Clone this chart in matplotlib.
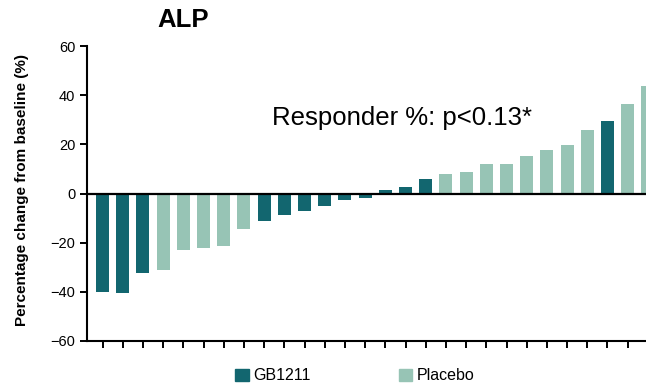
import matplotlib
matplotlib.use('Agg')
import matplotlib.pyplot as plt
from matplotlib.patches import Patch

# Datos (cambio porcentual de ALP por paciente)
valores = [-40.2, -40.5, -32.4, -31.1, -23.0, -22.3, -21.5, -14.6,
           -11.2, -8.8, -7.0, -4.9, -2.6, -1.8, 1.4, 2.5, 5.7,
           7.9, 8.9, 12.2, 12.2, 15.4, 17.8, 19.7, 26.0, 29.5, 36.6, 43.7]
grupos = ['GB1211', 'GB1211', 'GB1211', 'Placebo', 'Placebo', 'Placebo', 'Placebo', 'Placebo',
          'GB1211', 'GB1211', 'GB1211', 'GB1211', 'GB1211', 'GB1211', 'GB1211', 'GB1211', 'GB1211',
          'Placebo', 'Placebo', 'Placebo', 'Placebo', 'Placebo', 'Placebo', 'Placebo', 'Placebo',
          'GB1211', 'Placebo', 'Placebo']
yticks = [-60, -40, -20, 0, 20, 40, 60]

colores = {'GB1211': '#12666f', 'Placebo': '#97c4b5'}


def generar_grafica():
    plt.rcParams['font.family'] = ['Liberation Sans', 'DejaVu Sans']

    fig = plt.figure(figsize=(6.46, 3.86), dpi=100)
    ax = fig.add_axes([0.1347, 0.1166, 0.887, 0.7642])

    x = list(range(len(valores)))
    ax.bar(x, valores, width=0.65, color=[colores[g] for g in grupos])

    # Línea del cero
    ax.axhline(0, color='black', linewidth=1.6, zorder=3)

    ax.set_ylim(-60, 60)
    ax.set_xlim(-0.767, 27.6)
    ax.set_yticks(yticks)
    ax.set_xticks(x)
    ax.set_xticklabels([])
    ax.tick_params(axis='both', direction='out', length=5, width=1.4, labelsize=10.5)

    for lado in ['top', 'right']:
        ax.spines[lado].set_visible(False)
    for lado in ['left', 'bottom']:
        ax.spines[lado].set_linewidth(1.5)

    ax.text(8.39, 30.7, 'Responder %: p<0.13*', fontsize=18.5, va='center', ha='left')

    fig.text(22 / 646, 1 - 190 / 386, 'Percentage change from baseline (%)',
             rotation=90, ha='center', va='center', fontsize=11, fontweight='bold')
    fig.text(157 / 646, 1 - 20 / 386, 'ALP', fontsize=18.5, fontweight='bold',
             ha='left', va='center')

    # Leyenda
    handles = [Patch(color=colores['GB1211']), Patch(color=colores['Placebo'])]
    fig.legend(handles, ['GB1211', 'Placebo'], loc='center left',
               bbox_to_anchor=(235 / 646, 1 - 376 / 386), ncol=2, frameon=False,
               fontsize=11.5, handlelength=0.85, handleheight=0.85, handletextpad=0.3,
               columnspacing=5.5, borderpad=0, borderaxespad=0)

    fig.savefig('out.png', dpi=100)


if __name__ == "__main__":
    generar_grafica()
